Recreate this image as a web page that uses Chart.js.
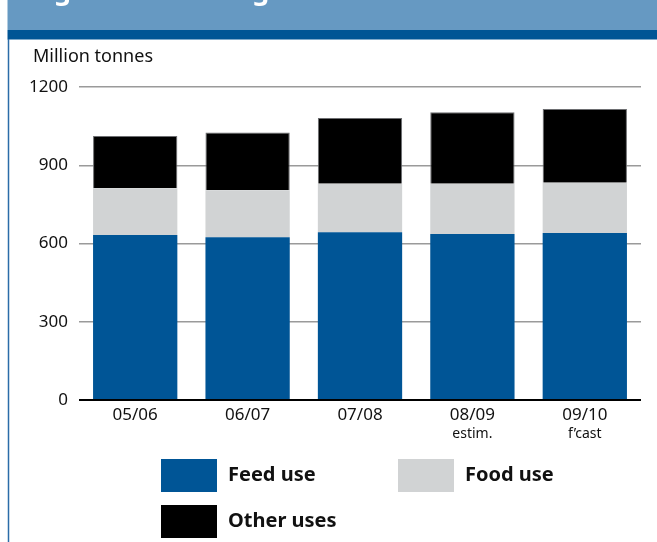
<!DOCTYPE html>
<html>
<head>
<meta charset="utf-8">
<script src="https://cdn.jsdelivr.net/npm/chart.js@4/dist/chart.umd.min.js"></script>
<style>
  html, body { margin: 0; padding: 0; background: #fff; }
  #wrap { position: relative; width: 657px; height: 542px; }
</style>
</head>
<body>
<div id="wrap"><canvas id="c" width="657" height="542"></canvas></div>
<script>
// Coarse grain use by season, million tonnes
const seasons = ['05/06', '06/07', '07/08', '08/09', '09/10'];
const seasonNotes = ['', '', '', 'estim.', 'f\u2019cast'];
const feedUse = [633, 624, 643, 636, 640];
const foodUse = [179, 180, 186, 193, 193];
const otherUses = [200, 222, 252, 274, 283];
const yTicks = [0, 300, 600, 900, 1200];
const unitLabel = 'Million tonnes';
const titleText = 'Figure 3: Coarse grain use';

const FONT = '"Noto Sans", "Open Sans", sans-serif';
const BLUE = '#005596';
const GREY = '#d1d3d4';
const BLACK = '#000000';

// Page furniture: header band, left rule, unit label
const framePlugin = {
  id: 'frame',
  beforeDraw(chart) {
    const ctx = chart.ctx;
    ctx.save();
    ctx.fillStyle = '#ffffff';
    ctx.fillRect(0, 0, chart.width, chart.height);
    ctx.fillStyle = '#6699c2';
    ctx.fillRect(7.5, 0, chart.width - 7.5, 30);
    ctx.fillStyle = '#005595';
    ctx.fillRect(7.5, 30, chart.width - 7.5, 9.5);
    ctx.fillStyle = '#ffffff';
    ctx.font = 'bold 27px ' + FONT;
    ctx.textBaseline = 'alphabetic';
    ctx.textAlign = 'left';
    ctx.fillText(titleText, 31, 0);
    ctx.strokeStyle = '#2b6ca8';
    ctx.lineWidth = 1.5;
    ctx.beginPath();
    ctx.moveTo(8.5, 39);
    ctx.lineTo(8.5, chart.height);
    ctx.stroke();
    ctx.fillStyle = '#111111';
    ctx.font = '18px ' + FONT;
    ctx.textBaseline = 'middle';
    ctx.fillText(unitLabel, 33, 57);
    ctx.restore();
  }
};

// Second line under the season labels, and the legend boxes
const notesLegendPlugin = {
  id: 'notesLegend',
  afterDraw(chart) {
    const ctx = chart.ctx;
    const xs = chart.scales.x;
    ctx.save();
    ctx.fillStyle = '#111111';
    ctx.font = '14px ' + FONT;
    ctx.textAlign = 'center';
    ctx.textBaseline = 'middle';
    seasonNotes.forEach((note, i) => {
      if (note) ctx.fillText(note, xs.getPixelForValue(i), 434);
    });

    const slots = [[161, 459], [398, 459], [161, 505]];
    ctx.font = 'bold 20px ' + FONT;
    ctx.textAlign = 'left';
    chart.data.datasets.forEach((ds, i) => {
      const [x, y] = slots[i];
      ctx.fillStyle = ds.backgroundColor;
      ctx.fillRect(x, y, 56, 33);
      ctx.fillStyle = '#111111';
      ctx.fillText(ds.label, x + 67, y + 16.5);
    });
    ctx.restore();
  }
};

new Chart(document.getElementById('c'), {
  type: 'bar',
  data: {
    labels: seasons,
    datasets: [
      { label: 'Feed use', data: feedUse, backgroundColor: BLUE },
      { label: 'Food use', data: foodUse, backgroundColor: GREY },
      { label: 'Other uses', data: otherUses, backgroundColor: BLACK,
        borderColor: '#6d6e71', borderWidth: 1, borderSkipped: 'bottom' }
    ]
  },
  options: {
    responsive: false,
    animation: false,
    devicePixelRatio: 1,
    layout: { padding: { top: 87, right: 16, bottom: 0, left: 0 } },
    datasets: { bar: { categoryPercentage: 1, barPercentage: 0.75 } },
    plugins: { legend: { display: false }, tooltip: { enabled: false } },
    scales: {
      x: {
        stacked: true,
        grid: { display: false, drawTicks: false },
        border: { display: false },
        ticks: { color: '#111111', font: { family: FONT, size: 17 }, padding: 5, maxRotation: 0 },
        afterFit(scale) { scale.height = 142; }
      },
      y: {
        stacked: true,
        min: yTicks[0],
        max: yTicks[yTicks.length - 1],
        afterBuildTicks(scale) { scale.ticks = yTicks.map(v => ({ value: v })); },
        grid: {
          drawTicks: false,
          color: ctx => ctx.tick && ctx.tick.value === 0 ? '#000000' : '#9a9a9a',
          lineWidth: ctx => ctx.tick && ctx.tick.value === 0 ? 2 : 1.5
        },
        border: { display: false },
        ticks: {
          color: '#111111',
          font: { family: FONT, size: 17 },
          padding: 11,
          callback: value => String(value)
        },
        afterFit(scale) { scale.width = 79; }
      }
    }
  },
  plugins: [framePlugin, notesLegendPlugin]
});
</script>
</body>
</html>
